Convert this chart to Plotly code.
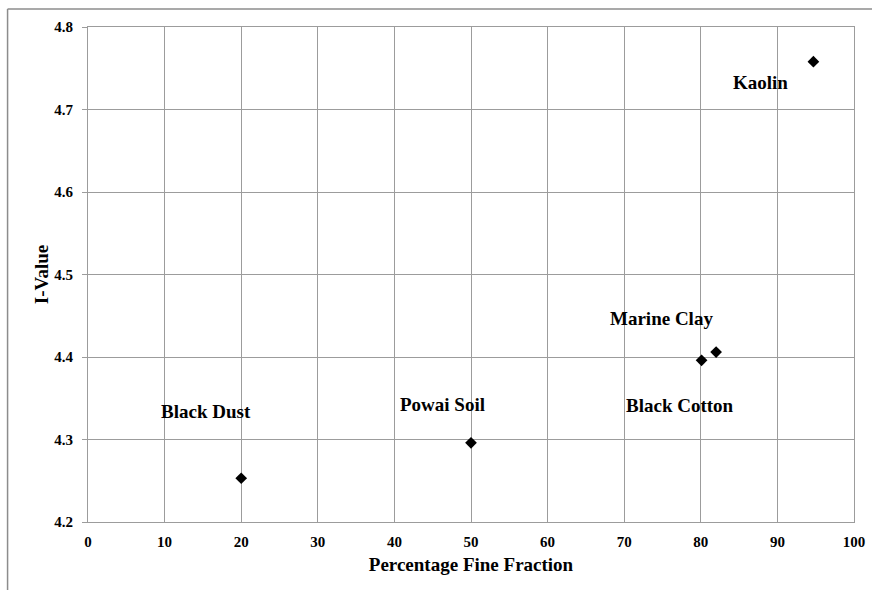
import plotly.graph_objects as go

# Soil samples: fine fraction (%) vs. I-value
soils = ["Black Dust", "Powai Soil", "Black Cotton", "Marine Clay", "Kaolin"]
fine_fraction = [20, 50, 80.1, 82.0, 94.7]
i_value = [4.253, 4.296, 4.396, 4.406, 4.758]

# Label anchor positions (data coordinates) for each soil name
label_x = [15.4, 46.3, 77.3, 74.9, 87.8]
label_y = [4.334, 4.343, 4.341, 4.447, 4.733]

x_ticks = [0, 10, 20, 30, 40, 50, 60, 70, 80, 90, 100]
y_ticks = [4.2, 4.3, 4.4, 4.5, 4.6, 4.7, 4.8]

FONT = "Liberation Serif, Times New Roman, serif"
GRID = "#9c9c9c"

fig = go.Figure()
fig.add_trace(go.Scatter(
    x=fine_fraction, y=i_value, mode="markers",
    marker=dict(symbol="diamond", size=9, color="black"),
    showlegend=False, hoverinfo="x+y", cliponaxis=False,
))

for name, lx, ly in zip(soils, label_x, label_y):
    fig.add_annotation(
        x=lx, y=ly, text=name, showarrow=False,
        font=dict(family=FONT, size=19, color="black", weight="bold"),
    )

fig.update_xaxes(
    range=[0, 100], tickvals=x_ticks, ticktext=[str(v) for v in x_ticks],
    showgrid=True, gridcolor=GRID, gridwidth=1,
    showline=True, linecolor=GRID, linewidth=1, mirror=True,
    zeroline=False, ticks="", ticklabelstandoff=6, automargin=False,
    tickfont=dict(family=FONT, size=15, color="black", weight="bold"),
    title=dict(text="Percentage Fine Fraction",
               font=dict(family=FONT, size=19, color="black", weight="bold"),
               standoff=8),
)
fig.update_yaxes(
    range=[4.2, 4.8], tickvals=y_ticks, ticktext=[f"{v:.1f}" for v in y_ticks],
    showgrid=True, gridcolor=GRID, gridwidth=1,
    showline=True, linecolor=GRID, linewidth=1, mirror=True,
    zeroline=False, ticks="outside", ticklen=5, tickcolor=GRID,
    ticklabelstandoff=6, automargin=False,
    tickfont=dict(family=FONT, size=15, color="black", weight="bold"),
    title=dict(text="I-Value",
               font=dict(family=FONT, size=19, color="black", weight="bold"),
               standoff=0),
)

# Outer chart frame (top and left edges)
frame = dict(color="#8c8c8c", width=1.5)
fig.add_shape(type="line", xref="paper", yref="paper",
              x0=-0.105, x1=1.05, y0=1.0364, y1=1.0364, line=frame)
fig.add_shape(type="line", xref="paper", yref="paper",
              x0=-0.105, x1=-0.105, y0=1.0364, y1=-0.2, line=frame)

fig.update_layout(
    width=872, height=590,
    margin=dict(l=88, r=18, t=27, b=68),
    plot_bgcolor="white", paper_bgcolor="white",
)

fig.write_html("out.html")
